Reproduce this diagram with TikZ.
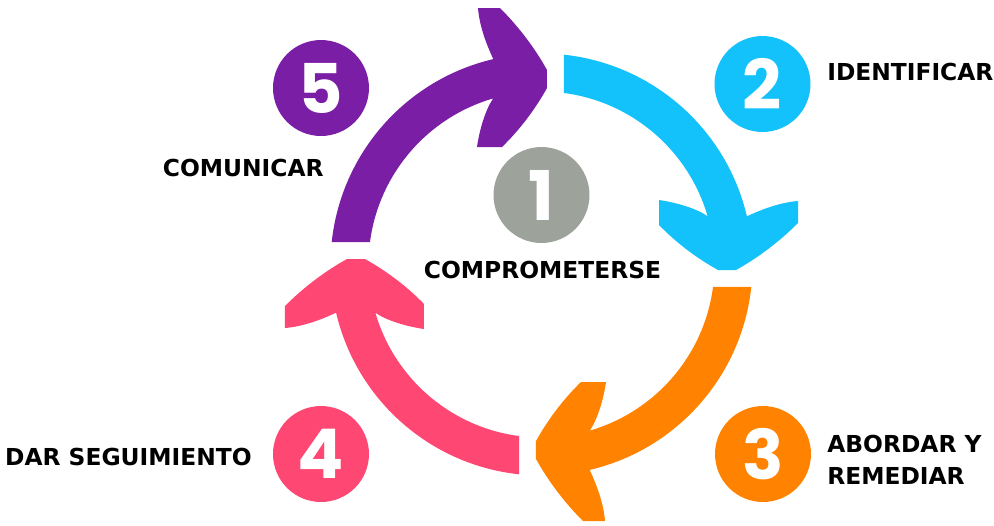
\documentclass[tikz,border=0pt]{standalone}
\usepackage{fontspec}
\setmainfont{DejaVu Sans}
\newfontfamily\numfont{Poppins}

\definecolor{cyclePurple}{HTML}{7A1EA5}
\definecolor{cycleCyan}{HTML}{13C1FB}
\definecolor{cycleOrange}{HTML}{FF8300}
\definecolor{cyclePink}{HTML}{FF4773}
\definecolor{cycleGray}{HTML}{9DA39B}

\tikzset{
	numdot/.style={circle,fill=#1,minimum size=1.92cm,inner sep=0pt,text=white,
		font=\numfont\bfseries\fontsize{39}{39}\selectfont},
	steplabel/.style={inner sep=0pt,font=\bfseries\fontsize{13.3}{18.2}\selectfont},
	pics/bendarrow/.style={code={
		\fill[#1] (173.88:211) arc[start angle=173.88,end angle=103.2,radius=211]
			.. controls (-55,220) and (-62,238) .. (-63.5,256.5)
			-- (-41.5,256.5)
			.. controls (-23,238) and (-7,217) .. (5.5,194.5)
			-- (5.5,176.5)
			.. controls (-6.5,155) and (-21.5,135) .. (-39.5,117.5)
			-- (-64.5,117.5)
			.. controls (-62,135) and (-56,155) .. (106.2:173)
			arc[start angle=106.2,end angle=172.53,radius=173]
			-- cycle;
	}}
}

\begin{document}
\begin{tikzpicture}[x=0.02cm,y=0.02cm]
	
	\useasboundingbox (-541.5,-260.5) rectangle (452.5,264.5);
	
	% Draw the four curved arrows
	\pic at (0,0) {bendarrow=cyclePurple};
	\pic[rotate=-90] at (0,0) {bendarrow=cycleCyan};
	\pic[rotate=-180] at (0,0) {bendarrow=cycleOrange};
	\pic[rotate=90] at (0,0) {bendarrow=cyclePink};
	
	% Draw the numbered dots
	\node[numdot=cycleGray] (n1) at (0,69.5) {1};
	\node[numdot=cycleCyan] (n2) at (221,180.5) {2};
	\node[numdot=cycleOrange] (n3) at (221.5,-189.5) {3};
	\node[numdot=cyclePink] (n4) at (-220.5,-189.5) {4};
	\node[numdot=cyclePurple] (n5) at (-220.5,176.5) {5};
	
	% Draw the labels
	\node[steplabel,anchor=base] (l1) at (1,-13.5) {COMPROMETERSE};
	\node[steplabel,anchor=base west] (l2) at (285.5,184.5) {IDENTIFICAR};
	\node[steplabel,anchor=north west,align=left] (l3) at (285.5,-170.5) {ABORDAR Y\\REMEDIAR};
	\node[steplabel,anchor=base east] (l4) at (-289.5,-200.5) {DAR SEGUIMIENTO};
	\node[steplabel,anchor=base east] (l5) at (-217.5,88.5) {COMUNICAR};

\end{tikzpicture}
\end{document}
